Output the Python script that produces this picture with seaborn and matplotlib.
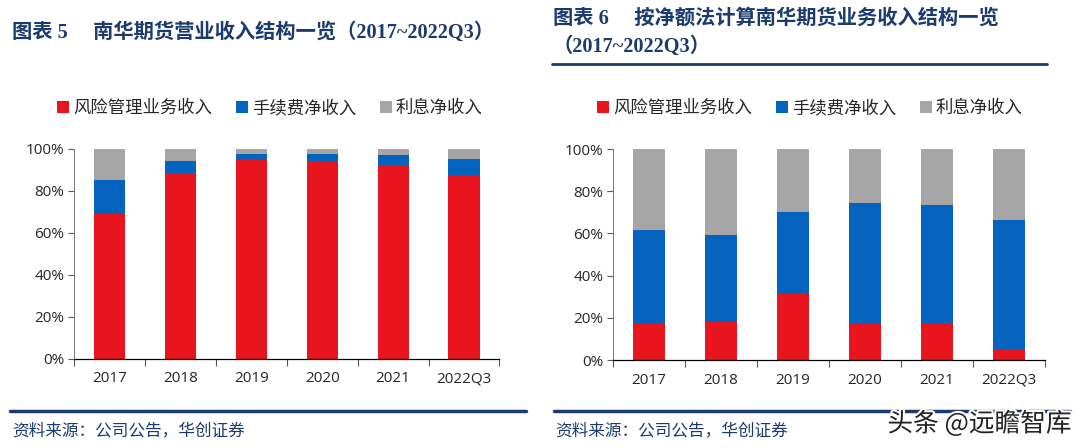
import matplotlib
matplotlib.use("Agg")
import matplotlib.pyplot as plt
import matplotlib.patheffects as pe
from matplotlib.patches import Patch
from matplotlib.lines import Line2D
import seaborn as sns
import pandas as pd

# categories and series (share of revenue, %)
years = ["2017", "2018", "2019", "2020", "2021", "2022Q3"]
series_names = ["风险管理业务收入", "手续费净收入", "利息净收入"]

# chart 5: operating revenue structure
risk_mgmt_5 = [69.2, 88.7, 95.2, 94.0, 92.4, 87.8]
commission_5 = [16.2, 5.3, 2.4, 3.7, 4.6, 7.5]
interest_5 = [14.6, 6.0, 2.4, 2.3, 3.0, 4.7]

# chart 6: business revenue structure, net method
risk_mgmt_6 = [17.2, 18.2, 31.4, 17.7, 17.7, 5.4]
commission_6 = [44.6, 41.0, 38.6, 56.5, 55.8, 61.1]
interest_6 = [38.2, 40.8, 30.0, 25.8, 26.5, 33.5]

titles = ["图表 5　 南华期货营业收入结构一览（2017~2022Q3）",
          "图表 6　 按净额法计算南华期货业务收入结构一览\n（2017~2022Q3）"]
source_text = "资料来源：公司公告，华创证券"

RED = "#E8141E"
BLUE = "#0563C0"
GRAY = "#A6A6A6"
NAVY = "#1B3A6E"

sns.set_theme(style="white")
plt.rcParams['font.family'] = ['Open Sans', 'Noto Sans CJK SC', 'DejaVu Sans']
title_font = ['Liberation Serif', 'Noto Sans CJK SC']
cjk_font = ['Noto Sans CJK SC', 'DejaVu Sans']

fig = plt.figure(figsize=(10.8, 4.48), dpi=100)


def draw_panel(ax, risk, comm, inter):
    df = pd.DataFrame({"year": years, "risk": risk, "comm": comm, "inter": inter})
    df["risk_comm"] = df["risk"] + df["comm"]
    df["total"] = df["risk_comm"] + df["inter"]
    # draw from the top of the stack down so lower segments overlay
    for col, color in [("total", GRAY), ("risk_comm", BLUE), ("risk", RED)]:
        sns.barplot(data=df, x="year", y=col, color=color, width=0.44,
                    saturation=1, ax=ax, edgecolor="none")
    ax.set_ylim(0, 100)
    ax.set_xlim(-0.5, len(years) - 0.5)
    ax.set_yticks([0, 20, 40, 60, 80, 100])
    ax.set_yticklabels([f"{v}%" for v in range(0, 101, 20)], fontsize=11)
    ax.set_xticks(range(len(years)))
    ax.set_xticklabels(years, fontsize=11)
    ax.set_xticks([i - 0.5 for i in range(len(years) + 1)], minor=True)
    ax.tick_params(axis="x", which="major", length=0, pad=9)
    ax.tick_params(axis="x", which="minor", direction="out", length=5, width=0.8, color="#595959", bottom=True)
    ax.tick_params(axis="y", direction="out", length=4, width=0.8, color="#595959", left=True, pad=3)
    ax.set_xlabel("")
    ax.set_ylabel("")
    for s in ["top", "right"]:
        ax.spines[s].set_visible(False)
    ax.spines["left"].set_color("#7F7F7F")
    ax.spines["left"].set_linewidth(0.8)
    ax.spines["bottom"].set_color("#000000")
    ax.spines["bottom"].set_linewidth(0.9)
    ax.grid(False)


ax1 = fig.add_axes([0.0685, 0.1987, 0.394, 0.469])
draw_panel(ax1, risk_mgmt_5, commission_5, interest_5)
ax2 = fig.add_axes([0.5676, 0.1964, 0.40, 0.471])
draw_panel(ax2, risk_mgmt_6, commission_6, interest_6)

# legends
handles = [Patch(facecolor=c, edgecolor="none") for c in [RED, BLUE, GRAY]]
for cx in [0.250, 0.750]:
    fig.legend(handles, series_names, loc="center", bbox_to_anchor=(cx, 1 - 108 / 448),
               ncol=3, frameon=False, prop={"family": cjk_font, "size": 12.5},
               handlelength=0.7, handleheight=0.7, handletextpad=0.2, columnspacing=1.4)

# titles
fig.text(12 / 1080, 1 - 33 / 448, titles[0], ha="left", va="center", color=NAVY,
         fontsize=14.6, fontweight="bold", family=title_font)
fig.text(553 / 1080, 1 - 33 / 448, titles[1], ha="left", va="center", color=NAVY,
         fontsize=14.6, fontweight="bold", family=title_font, linespacing=1.5)
fig.add_artist(Line2D([552 / 1080, 1047 / 1080], [1 - 64 / 448] * 2, color=NAVY, lw=2))

# bottom rules and sources
fig.add_artist(Line2D([10 / 1080, 526 / 1080], [1 - 411 / 448] * 2, color=NAVY, lw=2.5))
fig.add_artist(Line2D([554 / 1080, 1070 / 1080], [1 - 411 / 448] * 2, color=NAVY, lw=2.5))
for x0 in [12, 555]:
    fig.text(x0 / 1080, 1 - 431 / 448, source_text, ha="left", va="center", color=NAVY,
             fontsize=12, style="italic", family=cjk_font)

# watermark
wm = fig.text(1072 / 1080, 1 - 424 / 448, "头条 @远瞻智库", ha="right", va="center",
              color="#222222", fontsize=18.5, family=cjk_font)
wm.set_path_effects([pe.withStroke(linewidth=3, foreground="white")])

fig.savefig("out.png", dpi=100)
